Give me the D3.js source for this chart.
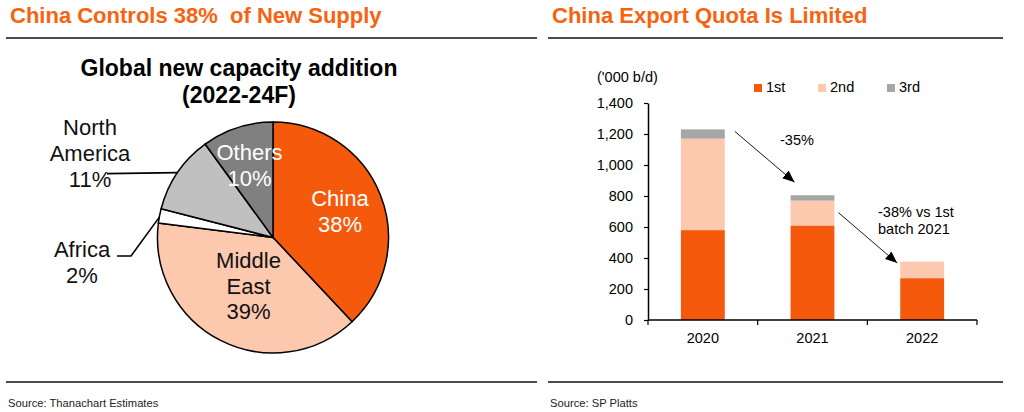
<!DOCTYPE html>
<html>
<head>
<meta charset="utf-8">
<script src="https://cdn.jsdelivr.net/npm/d3@7"></script>
<style>
  body { margin: 0; background: #fff; }
  svg { display: block; font-family: "Liberation Sans", Arial, sans-serif; }
</style>
</head>
<body>
<div id="chart"></div>
<script>
// pie data
const pieLabels = ["China", "Middle East", "Africa", "North America", "Others"];
const pieShares = [38, 39, 2, 11, 10];

// bar data ('000 b/d)
const years = ["2020", "2021", "2022"];
const batchNames = ["1st", "2nd", "3rd"];
const batch1 = [580, 610, 270];
const batch2 = [590, 160, 107];
const batch3 = [60, 35, 0];
const yTicks = [0, 200, 400, 600, 800, 1000, 1200, 1400];

const orange = "#F4590C";
const peach = "#FCC8AE";
const titleColor = "#F7630F";
const fs = "14.5px"; // right chart text size

const svg = d3.select("#chart").append("svg")
  .attr("width", 1024)
  .attr("height", 412);

const defs = svg.append("defs");
defs.append("marker")
  .attr("id", "arrow")
  .attr("viewBox", "0 0 12 10")
  .attr("refX", 12).attr("refY", 5)
  .attr("markerWidth", 12).attr("markerHeight", 10)
  .attr("markerUnits", "userSpaceOnUse")
  .attr("orient", "auto")
  .append("path")
  .attr("d", "M0,0 L12,5 L0,10 z")
  .attr("fill", "#000");

// ---- panel headers / rules / sources
const panels = [
  { x0: 6, x1: 537, tx: 10, title: "China Controls 38%  of New Supply", src: "Source: Thanachart Estimates" },
  { x0: 548, x1: 1003, tx: 552, title: "China Export Quota Is Limited", src: "Source: SP Platts" }
];
panels.forEach(p => {
  svg.append("text")
    .attr("x", p.tx).attr("y", 23)
    .style("font-size", "22px")
    .style("font-weight", "bold")
    .style("white-space", "pre")
    .attr("fill", titleColor)
    .text(p.title);
  [38, 382].forEach(y => {
    svg.append("line")
      .attr("x1", p.x0).attr("x2", p.x1)
      .attr("y1", y).attr("y2", y)
      .attr("stroke", "#111").attr("stroke-width", 1.6);
  });
  svg.append("text")
    .attr("x", p.tx - 2).attr("y", 407)
    .style("font-size", "11.2px")
    .attr("fill", "#222")
    .text(p.src);
});

// ---- Pie
const cx = 273, cy = 237.5, r = 115.5;
const pieColors = d3.scaleOrdinal().domain(pieLabels)
  .range([orange, peach, "#FFFFFF", "#C0C0C0", "#808080"]);

const pieTitle = svg.append("text")
  .attr("x", 239).attr("text-anchor", "middle")
  .style("font-size", "23px").style("font-weight", "bold")
  .attr("fill", "#000");
pieTitle.append("tspan").attr("x", 239).attr("y", 76).text("Global new capacity addition");
pieTitle.append("tspan").attr("x", 239).attr("y", 103).text("(2022-24F)");

const pie = d3.pie().sort(null).value(d => d.v);
const arcs = pie(pieLabels.map((l, i) => ({ label: l, v: pieShares[i] })));
const arc = d3.arc().innerRadius(0).outerRadius(r);

const pg = svg.append("g").attr("transform", `translate(${cx},${cy})`);
pg.selectAll("path.slice")
  .data(arcs)
  .enter().append("path")
  .attr("class", "slice")
  .attr("d", arc)
  .attr("fill", d => pieColors(d.data.label))
  .attr("stroke", "#000")
  .attr("stroke-width", 1.5);

// label placement (lines of text, radius of label centre, colour)
const labelStyle = {
  "China": { lines: ["China", "38%"], rad: 72, color: "#fff" },
  "Middle East": { lines: ["Middle", "East", "39%"], rad: 54, color: "#111" },
  "Others": { lines: ["Others", "10%"], rad: 76, color: "#fff" }
};
const lineH = 25.5;
arcs.forEach(d => {
  const s = labelStyle[d.data.label];
  if (!s) return;
  const mid = (d.startAngle + d.endAngle) / 2;
  const lx = Math.sin(mid) * s.rad;
  const ly = -Math.cos(mid) * s.rad;
  const t = pg.append("text")
    .attr("text-anchor", "middle")
    .style("font-size", "22px")
    .attr("fill", s.color);
  s.lines.forEach((ln, i) => {
    t.append("tspan")
      .attr("x", lx)
      .attr("y", ly + (i - (s.lines.length - 1) / 2) * lineH + 8)
      .text(ln);
  });
});

// outside labels with leader lines
function rimPoint(d) {
  const mid = (d.startAngle + d.endAngle) / 2;
  return [Math.sin(mid) * r, -Math.cos(mid) * r];
}
const naArc = arcs.find(d => d.data.label === "North America");
const afArc = arcs.find(d => d.data.label === "Africa");
const naP = rimPoint(naArc);
const afP = rimPoint(afArc);

pg.append("polyline")
  .attr("points", [[naP[0], naP[1]], [107 - cx, naP[1] + 1]].join(" "))
  .attr("fill", "none").attr("stroke", "#000").attr("stroke-width", 1.6);
pg.append("polyline")
  .attr("points", [[afP[0], afP[1] + 1], [131 - cx, 256 - cy], [117 - cx, 256 - cy]].join(" "))
  .attr("fill", "none").attr("stroke", "#000").attr("stroke-width", 1.6);

const naT = svg.append("text").attr("text-anchor", "middle")
  .style("font-size", "22px").attr("fill", "#111");
["North", "America", naArc.data.v + "%"].forEach((ln, i) => {
  naT.append("tspan").attr("x", 90).attr("y", 135 + i * 26).text(ln);
});
const afT = svg.append("text").attr("text-anchor", "middle")
  .style("font-size", "22px").attr("fill", "#111");
["Africa", afArc.data.v + "%"].forEach((ln, i) => {
  afT.append("tspan").attr("x", 82).attr("y", 257 + i * 26).text(ln);
});

// ---- Bar chart
const bx0 = 648, bx1 = 977, by0 = 320, by1 = 103;
const x = d3.scaleBand().domain(years).range([bx0, bx1]).paddingInner(0.6).paddingOuter(0.3);
const y = d3.scaleLinear().domain([0, 1400]).range([by0, by1]);
const barColors = d3.scaleOrdinal().domain(batchNames).range([orange, peach, "#A6A6A6"]);

const table = years.map((yr, i) => ({ year: yr, "1st": batch1[i], "2nd": batch2[i], "3rd": batch3[i] }));
const stacked = d3.stack().keys(batchNames)(table);

const bars = svg.append("g");
stacked.forEach(layer => {
  bars.selectAll(null)
    .data(layer)
    .enter().append("rect")
    .attr("x", d => x(d.data.year))
    .attr("width", x.bandwidth())
    .attr("y", d => y(d[1]))
    .attr("height", d => y(d[0]) - y(d[1]))
    .attr("fill", barColors(layer.key));
});

// y axis
const yAxis = svg.append("g")
  .attr("transform", `translate(${bx0},0)`)
  .call(d3.axisLeft(y).tickValues(yTicks).tickSize(4).tickSizeOuter(0).tickFormat(d3.format(",")));
yAxis.select(".domain").attr("stroke", "#000").attr("stroke-width", 1.5);
yAxis.selectAll(".tick line").attr("stroke", "#000").attr("stroke-width", 1.2);
yAxis.selectAll(".tick text")
  .attr("x", -15)
  .style("font-size", fs)
  .style("font-family", "Liberation Sans, Arial, sans-serif")
  .attr("fill", "#000");

// x axis with ticks between categories
const xAxisG = svg.append("g").attr("transform", `translate(0,${by0})`);
xAxisG.append("line")
  .attr("x1", bx0).attr("x2", bx1)
  .attr("stroke", "#000").attr("stroke-width", 1.5);
const step = x.step();
const bounds = [bx0].concat(years.map(yr => x(yr) + x.bandwidth() / 2 + step / 2));
xAxisG.selectAll("line.tk")
  .data(bounds)
  .enter().append("line")
  .attr("class", "tk")
  .attr("x1", d => d).attr("x2", d => d)
  .attr("y1", 0).attr("y2", 5)
  .attr("stroke", "#000").attr("stroke-width", 1.2);
xAxisG.selectAll("text")
  .data(years)
  .enter().append("text")
  .attr("x", d => x(d) + x.bandwidth() / 2)
  .attr("y", 23)
  .attr("text-anchor", "middle")
  .style("font-size", fs)
  .attr("fill", "#000")
  .text(d => d);

// unit label
svg.append("text")
  .attr("x", 597).attr("y", 82)
  .style("font-size", fs)
  .attr("fill", "#000")
  .text("('000 b/d)");

// legend
const legendX = [754, 818, 887];
batchNames.forEach((b, i) => {
  svg.append("rect")
    .attr("x", legendX[i]).attr("y", 84)
    .attr("width", 8).attr("height", 8)
    .attr("fill", barColors(b));
  svg.append("text")
    .attr("x", legendX[i] + 12).attr("y", 92)
    .style("font-size", fs)
    .attr("fill", "#000")
    .text(b);
});

// annotations
function arrow(x1, y1, x2, y2) {
  svg.append("line")
    .attr("x1", x1).attr("y1", y1).attr("x2", x2).attr("y2", y2)
    .attr("stroke", "#000").attr("stroke-width", 0.9)
    .attr("marker-end", "url(#arrow)");
}
const top2020 = y(batch1[0] + batch2[0] + batch3[0]);
const top2021 = y(batch1[1] + batch2[1] + batch3[1]);
const top2022 = y(batch1[2] + batch2[2] + batch3[2]);
arrow(x("2020") + x.bandwidth() + 10, top2020 + 2, x("2021") + 4, top2021 - 13);
arrow(x("2021") + x.bandwidth() + 4, y(batch1[1] + batch2[1]) + 12, x("2022") - 3, top2022 + 1.5);

svg.append("text")
  .attr("x", 780).attr("y", 145)
  .style("font-size", fs).attr("fill", "#000")
  .text("-35%");
const ann = svg.append("text").style("font-size", fs).attr("fill", "#000");
ann.append("tspan").attr("x", 878).attr("y", 217).text("-38% vs 1st");
ann.append("tspan").attr("x", 878).attr("y", 234).text("batch 2021");
</script>
</body>
</html>
